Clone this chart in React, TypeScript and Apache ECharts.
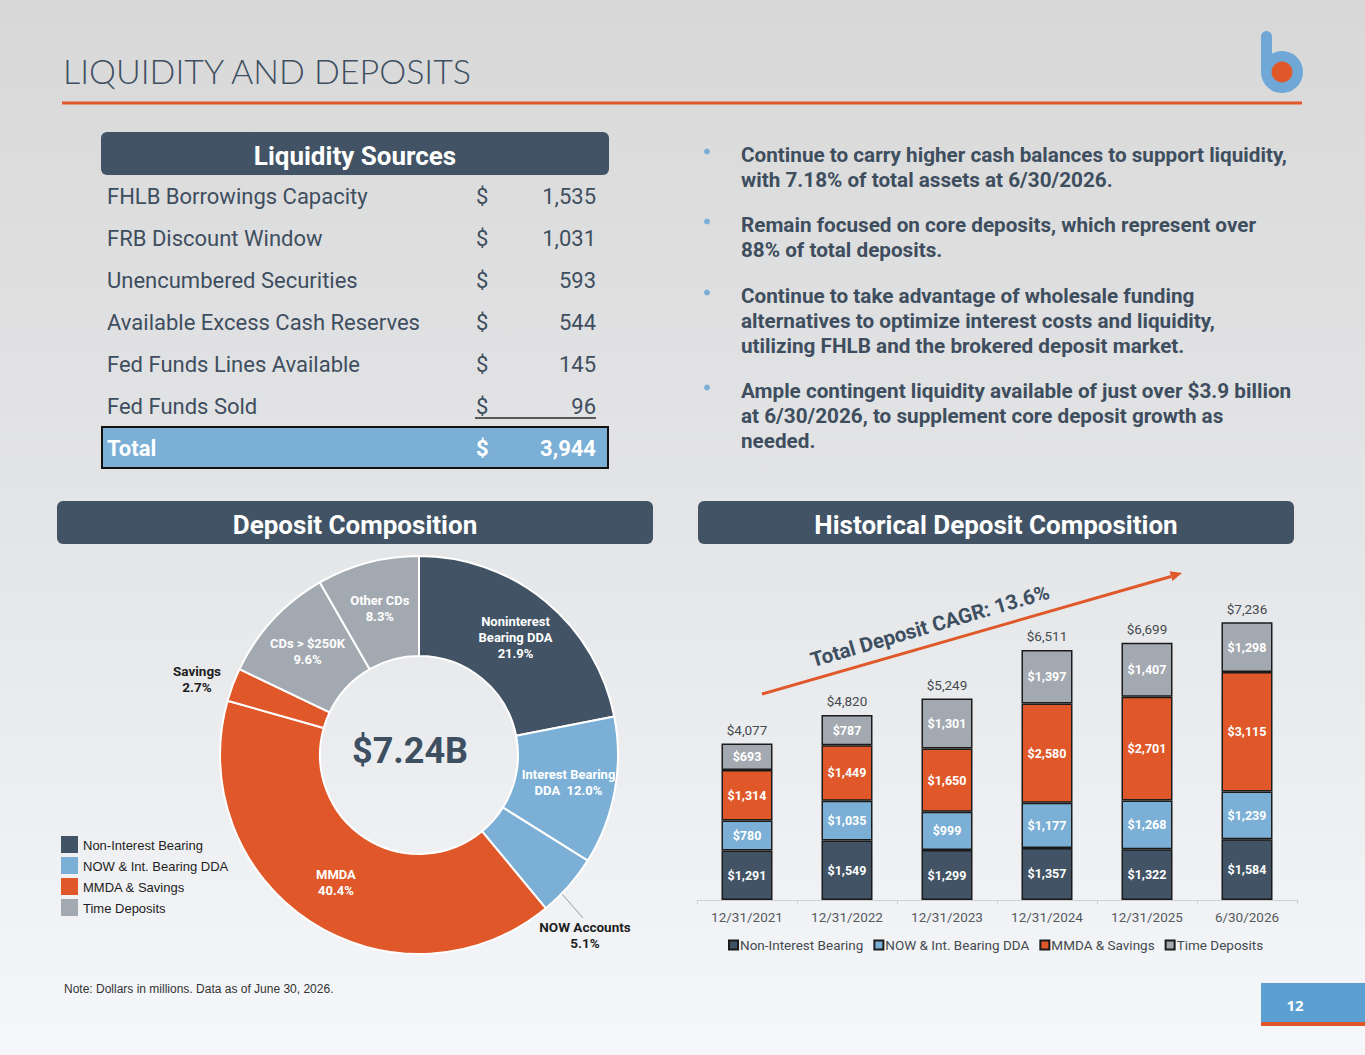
import React, { useEffect, useRef } from 'react';
import * as echarts from 'echarts';

// ---- Liquidity sources table ($ millions) ----
const liquidityLabels = [
  'FHLB Borrowings Capacity',
  'FRB Discount Window',
  'Unencumbered Securities',
  'Available Excess Cash Reserves',
  'Fed Funds Lines Available',
  'Fed Funds Sold',
];
const liquidityValues = [1535, 1031, 593, 544, 145, 96];
const liquidityTotal = 3944;

// ---- Commentary bullets ----
const bulletLines = [
  ['Continue to carry higher cash balances to support liquidity,', 'with 7.18% of total assets at 6/30/2026.'],
  ['Remain focused on core deposits, which represent over', '88% of total deposits.'],
  ['Continue to take advantage of wholesale funding', 'alternatives to optimize interest costs and liquidity,', 'utilizing FHLB and the brokered deposit market.'],
  ['Ample contingent liquidity available of just over $3.9 billion', 'at 6/30/2026, to supplement core deposit growth as', 'needed.'],
];

// ---- Deposit composition (share of total, %) ----
const pieNames = ['Noninterest Bearing DDA', 'Interest Bearing DDA', 'NOW Accounts', 'MMDA', 'Savings', 'CDs > $250K', 'Other CDs'];
const pieValues = [21.9, 12.0, 5.1, 40.4, 2.7, 9.6, 8.3];
const pieLabelTemplates = [
  'Noninterest\nBearing DDA\n{v}%',
  'Interest Bearing\nDDA  {v}%',
  'NOW Accounts\n{v}%',
  'MMDA\n{v}%',
  'Savings\n{v}%',
  'CDs > $250K\n{v}%',
  'Other CDs\n{v}%',
];
const pieGroup = [0, 1, 1, 2, 2, 3, 3];
const totalDepositsText = '$7.24B';

// ---- Historical deposit composition ($ millions) ----
const groupNames = ['Non-Interest Bearing', 'NOW & Int. Bearing DDA', 'MMDA & Savings', 'Time Deposits'];
const periods = ['12/31/2021', '12/31/2022', '12/31/2023', '12/31/2024', '12/31/2025', '6/30/2026'];
const nonInterestBearing = [1291, 1549, 1299, 1357, 1322, 1584];
const nowIntBearingDDA = [780, 1035, 999, 1177, 1268, 1239];
const mmdaSavings = [1314, 1449, 1650, 2580, 2701, 3115];
const timeDeposits = [693, 787, 1301, 1397, 1407, 1298];
const periodTotals = [4077, 4820, 5249, 6511, 6699, 7236];
const cagrText = 'Total Deposit CAGR: 13.6%';

const DARK = '#415364';
const LIGHT = '#7bafd6';
const ORANGE = '#e0582a';
const GRAY = '#a3a9b0';
const TEXT = '#3e4e5e';
const groupColors = [DARK, LIGHT, ORANGE, GRAY];

const W = 1365;
const H = 1055;

const money = (v: number) => '$' + v.toLocaleString('en-US');

function txt(x: number, y: number, text: string, font: string, fill: string, align = 'left', vAlign = 'middle', extra: any = {}) {
  const { style: extraStyle, ...rest } = extra;
  return {
    type: 'text',
    x,
    y,
    silent: true,
    ...rest,
    style: { text, font, fill, align, verticalAlign: vAlign, textAlign: align, textVerticalAlign: vAlign, ...(extraStyle || {}) },
  };
}

function buildGraphics() {
  const g: any[] = [];

  // Title and rule
  g.push(txt(63, 70, 'LIQUIDITY AND DEPOSITS', '300 34px Lato', '#3d4f60'));
  g.push({ type: 'rect', shape: { x: 62, y: 101.5, width: 1240, height: 3 }, style: { fill: ORANGE } });

  // Logo mark
  g.push({ type: 'rect', shape: { x: 1261, y: 31, width: 11, height: 45, r: 5.5 }, style: { fill: '#6fa8d6' } });
  g.push({ type: 'circle', shape: { cx: 1282, cy: 72, r: 21 }, style: { fill: '#6fa8d6' } });
  g.push({ type: 'circle', shape: { cx: 1282, cy: 72, r: 10.5 }, style: { fill: ORANGE } });

  // Liquidity sources table
  g.push({ type: 'rect', shape: { x: 101, y: 132, width: 508, height: 43, r: 6 }, style: { fill: DARK } });
  g.push(txt(355, 156, 'Liquidity Sources', 'bold 26px Roboto', '#ffffff', 'center'));
  liquidityLabels.forEach((label, i) => {
    const y = 196 + 42 * i;
    g.push(txt(107, y, label, '22px Roboto', TEXT));
    g.push(txt(476, y, '$', '22px Roboto', TEXT));
    g.push(txt(596, y, liquidityValues[i].toLocaleString('en-US'), '22px Roboto', TEXT, 'right'));
  });
  g.push({ type: 'line', shape: { x1: 475, y1: 418, x2: 596, y2: 418 }, style: { stroke: '#2b2b2b', lineWidth: 1.5 } });
  g.push({ type: 'rect', shape: { x: 102, y: 427, width: 506, height: 41 }, style: { fill: LIGHT, stroke: '#111111', lineWidth: 2 } });
  g.push(txt(107, 448, 'Total', 'bold 22px Roboto', '#ffffff'));
  g.push(txt(476, 448, '$', 'bold 22px Roboto', '#ffffff'));
  g.push(txt(596, 448, liquidityTotal.toLocaleString('en-US'), 'bold 22px Roboto', '#ffffff', 'right'));

  // Bullets
  const bulletTops = [142.5, 212.5, 283.5, 378.5];
  bulletLines.forEach((lines, i) => {
    g.push({ type: 'circle', shape: { cx: 707, cy: bulletTops[i] + 9, r: 3 }, style: { fill: '#7bafd6' } });
    g.push(txt(741, bulletTops[i], lines.join('\n'), 'bold 20.7px Roboto', TEXT, 'left', 'top', { style: { lineHeight: 24.8 } }));
  });

  // Section headers
  g.push({ type: 'rect', shape: { x: 57, y: 501, width: 596, height: 43, r: 6 }, style: { fill: DARK } });
  g.push(txt(355, 525, 'Deposit Composition', 'bold 26px Roboto', '#ffffff', 'center'));
  g.push({ type: 'rect', shape: { x: 698, y: 501, width: 596, height: 43, r: 6 }, style: { fill: DARK } });
  g.push(txt(996, 525, 'Historical Deposit Composition', 'bold 26px Roboto', '#ffffff', 'center'));

  // Donut centre total
  g.push(txt(410, 751, totalDepositsText, 'bold 36px Roboto', '#3d4f60', 'center'));

  // Donut legend
  groupNames.forEach((name, i) => {
    const y = 836 + 21 * i;
    g.push({ type: 'rect', shape: { x: 61, y, width: 17, height: 17 }, style: { fill: groupColors[i] } });
    g.push(txt(83, y + 9, name, '13px "Liberation Sans"', '#1e1e1e'));
  });

  // CAGR arrow and caption
  g.push({ type: 'line', shape: { x1: 762, y1: 694, x2: 1171, y2: 576.5 }, style: { stroke: ORANGE, lineWidth: 3 } });
  g.push({ type: 'polygon', shape: { points: [[1182, 573], [1169.6, 571.2], [1172.4, 581.0]] }, style: { fill: ORANGE } });
  g.push(txt(930, 626, cagrText, 'bold 20.5px Roboto', '#3d4f60', 'center', 'middle', { rotation: 0.283 }));

  // Footnote
  g.push(txt(64, 989, 'Note: Dollars in millions. Data as of June 30, 2026.', '12px "Liberation Sans"', '#333333'));

  // Page number tab
  g.push({ type: 'rect', shape: { x: 1261, y: 983, width: 104, height: 39 }, style: { fill: '#5c9fd1' } });
  g.push({ type: 'rect', shape: { x: 1261, y: 1022, width: 104, height: 4 }, style: { fill: ORANGE } });
  g.push(txt(1295, 1005, '12', 'bold 15px "Open Sans"', '#ffffff', 'center'));

  return g;
}

function buildOption(): any {
  const pieData = pieNames.map((name, i) => {
    const item: any = { name, value: pieValues[i], itemStyle: { color: groupColors[pieGroup[i]] } };
    if (i === 2 || i === 4) {
      item.label = { position: 'outside', color: '#1e1e1e', fontSize: 13.5 };
      item.labelLine = { show: i === 2, lineStyle: { color: '#9a9a9a', width: 1 } };
    }
    return item;
  });

  const barLabel = {
    show: true,
    position: 'inside',
    formatter: (p: any) => money(p.value),
    color: '#ffffff',
    fontWeight: 'bold',
    fontSize: 12.5,
    fontFamily: 'Roboto',
  };
  const barSeries = [nonInterestBearing, nowIntBearingDDA, mmdaSavings, timeDeposits].map((data, i) => ({
    name: groupNames[i],
    type: 'bar',
    stack: 'deposits',
    data,
    barWidth: 51,
    itemStyle: { color: groupColors[i], borderColor: '#1b1b1b', borderWidth: 1.5 },
    label: barLabel,
  }));

  return {
    animation: false,
    backgroundColor: {
      type: 'linear', x: 0, y: 0, x2: 0, y2: 1,
      colorStops: [
        { offset: 0, color: '#d8d8d8' },
        { offset: 0.5, color: '#e4e5e7' },
        { offset: 1, color: '#f5f7fa' },
      ],
    },
    textStyle: { fontFamily: 'Roboto' },
    grid: { left: 697, width: 600, top: 554.4, bottom: H - 900 },
    xAxis: {
      type: 'category',
      data: periods,
      axisLine: { lineStyle: { color: '#cfd1d4', width: 1 } },
      axisTick: { show: true, length: 4, lineStyle: { color: '#cfd1d4' } },
      axisLabel: { color: '#555a60', fontSize: 13.5, margin: 10, fontFamily: 'Roboto' },
    },
    yAxis: { type: 'value', min: 0, max: 9000, show: false, splitLine: { show: false } },
    legend: {
      data: groupNames,
      left: 723,
      top: 933,
      icon: 'rect',
      itemWidth: 9,
      itemHeight: 9,
      itemGap: 10,
      textStyle: { fontSize: 13.5, color: '#454a50', fontFamily: 'Roboto', padding: [0, 0, 0, -3] },
      selectedMode: false,
    },
    series: [
      {
        name: 'Deposit Composition',
        type: 'pie',
        center: [419, 755],
        radius: [99, 199],
        startAngle: 90,
        clockwise: true,
        avoidLabelOverlap: false,
        itemStyle: { borderColor: '#ffffff', borderWidth: 2 },
        label: {
          show: true,
          position: 'inside',
          color: '#ffffff',
          fontWeight: 'bold',
          fontSize: 13,
          lineHeight: 16,
          fontFamily: 'Roboto',
          formatter: (p: any) => pieLabelTemplates[p.dataIndex].replace('{v}', p.value.toFixed(1)),
        },
        labelLine: { show: false },
        labelLayout: (p: any) => {
          if (p.dataIndex === 4) return { x: 197, y: 679, align: 'center', verticalAlign: 'middle' };
          if (p.dataIndex === 2)
            return {
              x: 585, y: 935, align: 'center', verticalAlign: 'middle',
              labelLinePoints: [[541, 869], [562, 894], [583, 918]],
            };
          return {};
        },
        data: pieData,
      },
      ...barSeries,
      {
        name: 'Total',
        type: 'line',
        data: periodTotals,
        symbol: 'circle',
        symbolSize: 1,
        itemStyle: { color: 'rgba(0,0,0,0)' },
        lineStyle: { width: 0, opacity: 0 },
        silent: true,
        label: {
          show: true,
          position: 'top',
          distance: 6,
          formatter: (p: any) => money(p.value),
          color: '#454a50',
          fontSize: 13.5,
          fontFamily: 'Roboto',
        },
      },
    ],
    graphic: { elements: buildGraphics() },
  };
}

export default function App() {
  const ref = useRef<HTMLDivElement>(null);
  useEffect(() => {
    const chart = echarts.init(ref.current!, null, { renderer: 'svg' });
    chart.setOption(buildOption());
    return () => chart.dispose();
  }, []);
  return <div ref={ref} style={{ position: 'fixed', left: 0, top: 0, width: W, height: H }} />;
}
